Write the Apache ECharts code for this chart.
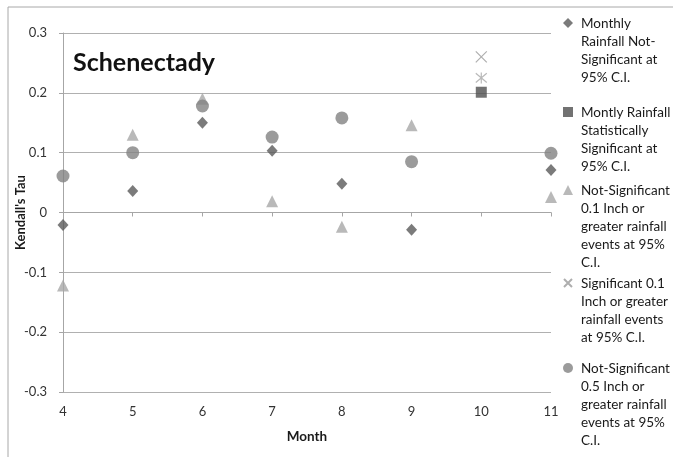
<!DOCTYPE html>
<html><head><meta charset="utf-8">
<script src="https://cdn.jsdelivr.net/npm/echarts@6/dist/echarts.min.js"></script>
<style>html,body{margin:0;padding:0;background:#fff}#c{width:673px;height:457px}</style>
</head><body><div id="c"></div>
<script>
const months = [4,5,6,7,8,9,10,11];
const monthlyNotSig = [[4,-0.021],[5,0.036],[6,0.150],[7,0.103],[8,0.048],[9,-0.029],[11,0.071]];
const monthlySig = [[10,0.201]];
const tenthNotSig = [[4,-0.122],[5,0.130],[6,0.190],[7,0.019],[8,-0.024],[9,0.146],[11,0.026]];
const tenthSig = [[10,0.260]];
const halfSig = [[10,0.225]];
const halfNotSig = [[4,0.061],[5,0.100],[6,0.178],[7,0.126],[8,0.158],[9,0.085],[11,0.099]];
const yTicks = [-0.3,-0.2,-0.1,0,0.1,0.2,0.3];
const names = [
  'Monthly\nRainfall Not-\nSignificant at\n95% C.I.',
  'Montly Rainfall\nStatistically\nSignificant at\n95% C.I.',
  'Not-Significant\n0.1 Inch or\ngreater rainfall\nevents at 95%\nC.I.',
  'Significant 0.1\nInch or greater\nrainfall events\nat 95% C.I.',
  'Not-Significant\n0.5 Inch or\ngreater rainfall\nevents at 95%\nC.I.'
];
const FONT = 'Lato';
const LH = 18;
const chart = echarts.init(document.getElementById('c'));
const xPath = 'path://M0,0L10,10M10,0L0,10';
const starPath = 'path://M0,0L10,10M10,0L0,10M5,-1L5,11';
const iconShapes = [
  'M5,3L10,8L5,13L0,8Z',
  'M0,3L10,3L10,13L0,13Z',
  'M5,3L10,13L0,13Z',
  'M1,4L9,12M9,4L1,12',
  'M0,8A5,5 0 1,0 10,8A5,5 0 1,0 0,8Z'
];
const iconCenters = [23, 112, 190, 282, 368];
const legends = names.map((n,i)=>{
  const H = n.split('\n').length * LH;
  return {
    data:[{name:n, icon:'path://' + iconShapes[i] + 'M5,0L5,0M5,' + H + 'L5,' + H}],
    left:563, top:iconCenters[i]-8, padding:0, orient:'vertical', itemWidth:10, itemHeight:H, itemGap:0,
    textStyle:{fontFamily:FONT, fontSize:13.5, color:'#1a1a1a', lineHeight:LH, padding:[0,0,0,3]},
    selectedMode:false
  };
});
chart.setOption({
  animation:false,
  backgroundColor:'#fff',
  graphic:[{type:'rect', shape:{x:8,y:7,width:700,height:500}, style:{fill:'none', stroke:'#a8a8a8', lineWidth:1}, silent:true}],
  title:{text:'Schenectady', left:68, top:45, textStyle:{fontFamily:FONT, fontSize:25, fontWeight:'bold', color:'#111'}},
  legend: legends,
  grid:{left:63, right:122, top:33, bottom:65, containLabel:false, outerBoundsMode:'none'},
  xAxis:{type:'value', min:4, max:11, interval:1, name:'Month', nameLocation:'middle', nameGap:38, nameMoveOverlap:false,
    nameTextStyle:{fontFamily:FONT, fontSize:13.5, fontWeight:'bold', color:'#1a1a1a'},
    axisLine:{lineStyle:{color:'#a6a6a6'}}, axisTick:{show:true, length:4, lineStyle:{color:'#a6a6a6'}},
    axisLabel:{fontFamily:FONT, fontSize:13, color:'#333', margin:13}, splitLine:{show:false}},
  yAxis:{type:'value', min:-0.3, max:0.3, interval:0.1, name:"Kendall's Tau", nameLocation:'middle', nameGap:36, nameRotate:90, nameMoveOverlap:false,
    nameTextStyle:{fontFamily:FONT, fontSize:13, fontWeight:'bold', color:'#1a1a1a'},
    axisLine:{show:true, lineStyle:{color:'#a6a6a6'}}, axisTick:{show:true, length:4, lineStyle:{color:'#a6a6a6'}},
    axisLabel:{fontFamily:FONT, fontSize:13, color:'#333', margin:16, formatter:v=>String(+v.toFixed(1))},
    splitLine:{show:true, lineStyle:{color:'#b0b0b0'}}},
  series:[
    {name:names[4], type:'scatter', data:halfNotSig, symbol:'circle', symbolSize:13, itemStyle:{color:'#828282'}, z:2},
    {name:names[2], type:'scatter', data:tenthNotSig, symbol:'triangle', symbolSize:12, itemStyle:{color:'#a8a8a8'}, z:1},
    {name:names[0], type:'scatter', data:monthlyNotSig, symbol:'diamond', symbolSize:[11,12], itemStyle:{color:'#5a5a5a'}, z:3},
    {name:names[1], type:'scatter', data:monthlySig, symbol:'rect', symbolSize:11, itemStyle:{color:'#4f4f4f'}, z:3},
    {name:names[3], type:'scatter', data:tenthSig, symbol:xPath, symbolSize:11, itemStyle:{color:'rgba(0,0,0,0)', borderColor:'#9a9a9a', borderWidth:1.2}, z:3},
    {name:'Significant 0.5 Inch', type:'scatter', data:halfSig, symbol:starPath, symbolSize:11, itemStyle:{color:'rgba(0,0,0,0)', borderColor:'#a8a8a8', borderWidth:1.2}, z:3}
  ]
});
</script></body></html>
